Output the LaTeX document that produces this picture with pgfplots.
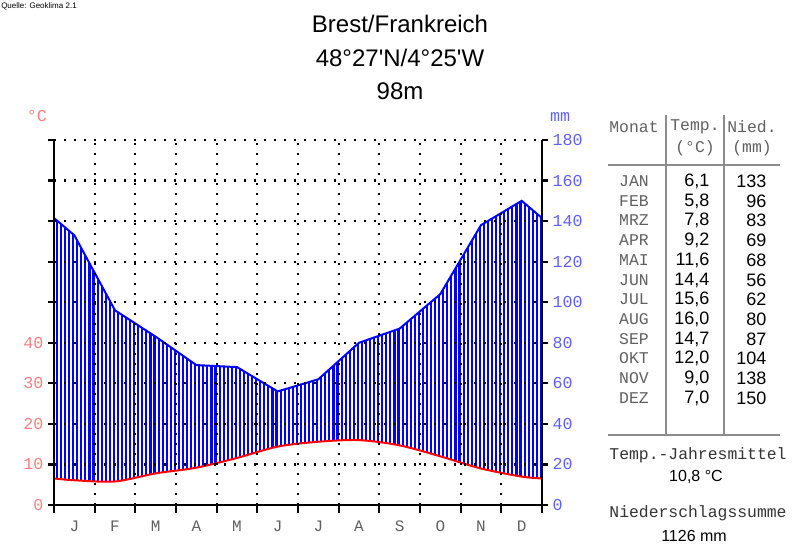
\documentclass[border=0pt]{standalone}
\usepackage{pgfplots}
\pgfplotsset{compat=1.18}
\usepackage{pgfplotstable}
\usepgfplotslibrary{fillbetween}
\usetikzlibrary{patterns.meta}
\usepackage{fontspec}
\setmainfont{Liberation Sans}
\newfontfamily\mono{Liberation Mono}
\definecolor{tline}{HTML}{FF0000}
\definecolor{tlab}{HTML}{FF8080}
\definecolor{pline}{HTML}{0000FF}
\definecolor{plab}{HTML}{6060FF}
\definecolor{mgray}{HTML}{606060}
\definecolor{rgray}{HTML}{8C8C8C}

% month centre, temperature (deg C), precipitation (mm); ends = Dec/Jan join
\pgfplotstableread{
m     T     P
0     6.55  141.5
0.5   6.1   133
1.5   5.8   96
2.5   7.8   83
3.5   9.2   69
4.5   11.6  68
5.5   14.4  56
6.5   15.6  62
7.5   16.0  80
8.5   14.7  87
9.5   12.0  104
10.5  9.0   138
11.5  7.0   150
12    6.55  141.5
}\climate

\newcommand\fs[1]{\fontsize{#1}{#1}\selectfont}
\newcommand\trow[4]{%
  \node[font=\mono\fs{12.3}, text=mgray] at (634,#1) {#2};
  \node[font=\fs{13.5}, anchor=east] at (714,#1) {#3};
  \node[font=\fs{13.5}, anchor=east] at (771,#1) {#4};}

\begin{document}
\begin{tikzpicture}
\pgfplotsset{
  wl/.style={scale only axis, width=366pt, height=273.75pt, xmin=0, xmax=12,
    every non boxed x axis/.style={x axis line style={-, line width=1.6pt, black}},
    every non boxed y axis/.style={y axis line style={-, line width=1.6pt, black}},
    major tick style={line width=1.6pt, black},
    minor tick style={line width=1.6pt, black},
    tick align=outside,
    /pgf/number format/assume math mode=true},
}
\begin{axis}[wl, ymin=0, ymax=180,
  axis x line=bottom, axis y line=right, axis on top,
  xtick={0.5,1.5,...,11.5}, xticklabels={J,F,M,A,M,J,J,A,S,O,N,D},
  major x tick style={draw=none},
  minor xtick={0,1,...,12}, minor tick length=6pt,
  xticklabel style={font=\mono\fs{12}, text=mgray, yshift=-4pt},
  ytick={0,20,...,180}, major tick length=4.5pt,
  yticklabel style={font=\mono\fs{12.5}, text=plab},
  ymajorgrids, xminorgrids,
  major grid style={line width=1.6pt, black, dash pattern=on 1.6pt off 5.9pt},
  minor grid style={line width=1.6pt, black, dash pattern=on 1.6pt off 5.9pt},
]
\addplot[name path=P, pline, line width=1.5pt] table[x=m, y=P] {\climate};
\addplot[name path=T, tline, line width=1.5pt, smooth] table[x=m, y expr=2*\thisrow{T}] {\climate};
\addplot[draw=none, pattern={Lines[angle=90, distance=3.05pt, line width=1.6pt]}, pattern color=pline]
  fill between[of=P and T];
\draw[black, line width=1.6pt] (rel axis cs:1,0) -- (rel axis cs:1,1);
\end{axis}
\begin{axis}[wl, ymin=0, ymax=90,
  hide x axis, axis y line=left,
  ytick={0,10,...,90}, yticklabels={0,10,20,30,40,{},{},{},{},{}},
  major tick length=4.5pt,
  yticklabel style={font=\mono\fs{12.5}, text=tlab},
]
\addplot[draw=none] coordinates {(0,0)};
\end{axis}

\begin{scope}[x=0.75pt, y=-0.75pt, shift={(-40.5pt,378.75pt)}]
\node[font=\fs{6}, anchor=north west, inner sep=0pt] at (1,2) {Quelle: Geoklima 2.1};
\node[font=\fs{18}] at (400,24) {Brest/Frankreich};
\node[font=\fs{18}] at (400,58) {48°27\textquotesingle N/4°25\textquotesingle W};
\node[font=\fs{18}] at (400,91) {98m};
\node[font=\mono\fs{12.5}, text=tlab] at (37,116) {°C};
\node[font=\mono\fs{12.5}, text=plab] at (560,117) {mm};
% table
\draw[rgray, line width=1.5pt] (666,115) -- (666,435) (724,115) -- (724,435);
\draw[rgray, line width=1.5pt] (608,165) -- (780,165) (608,435) -- (780,435);
\node[font=\mono\fs{12.3}, text=mgray] at (634,127) {Monat};
\node[font=\mono\fs{12.3}, text=mgray] at (695,127) {Temp.};
\node[font=\mono\fs{12.3}, text=mgray] at (695,148) {(°C)};
\node[font=\mono\fs{12.3}, text=mgray] at (752,127) {Nied.};
\node[font=\mono\fs{12.3}, text=mgray] at (752,148) {(mm)};
\trow{181}{JAN}{6,1}{133}
\trow{201}{FEB}{5,8}{96}
\trow{220}{MRZ}{7,8}{83}
\trow{240}{APR}{9,2}{69}
\trow{260}{MAI}{11,6}{68}
\trow{280}{JUN}{14,4}{56}
\trow{299}{JUL}{15,6}{62}
\trow{319}{AUG}{16,0}{80}
\trow{339}{SEP}{14,7}{87}
\trow{358}{OKT}{12,0}{104}
\trow{378}{NOV}{9,0}{138}
\trow{398}{DEZ}{7,0}{150}
\node[font=\mono\fs{12.3}, text=black!80] at (698,455) {Temp.-Jahresmittel};
\node[font=\fs{12}] at (696,477) {10,8 °C};
\node[font=\mono\fs{12.3}, text=black!80] at (698,513) {Niederschlagssumme};
\node[font=\fs{12}] at (694,536) {1126 mm};
\end{scope}
\pgfresetboundingbox
\begin{scope}[x=0.75pt, y=-0.75pt, shift={(-40.5pt,378.75pt)}]
\path (0,0) rectangle (800,555);
\end{scope}
\end{tikzpicture}
\end{document}
